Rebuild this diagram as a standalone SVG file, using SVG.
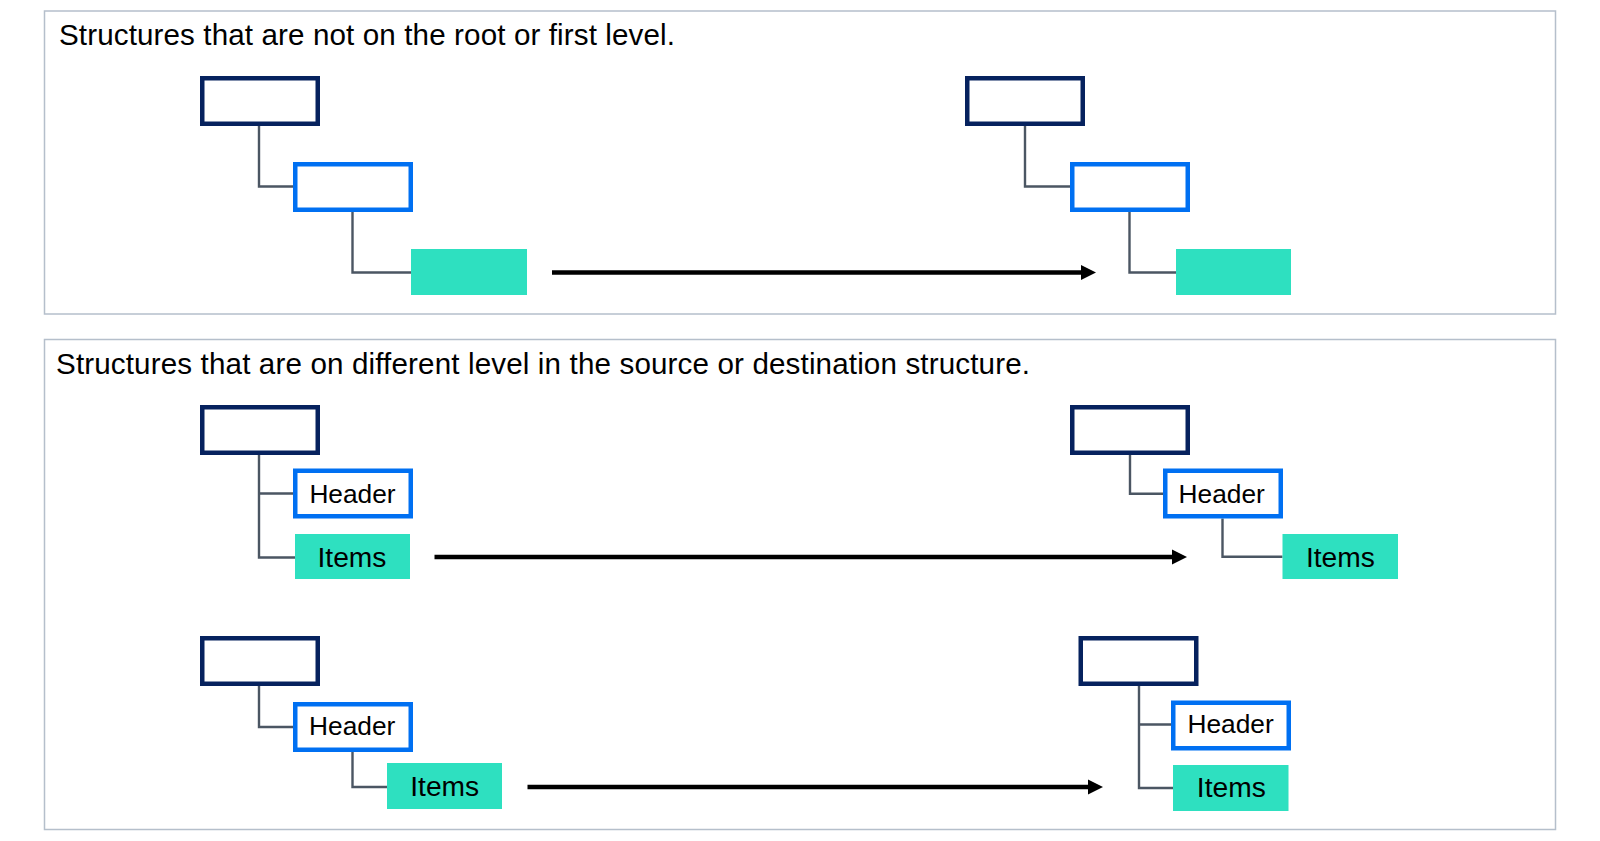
<svg xmlns="http://www.w3.org/2000/svg" width="1600" height="841" viewBox="0 0 1600 841">
<style>
.panel{fill:#ffffff;stroke:#b5bfcb;stroke-width:1.5}
.title{font-family:"Liberation Sans",Arial,sans-serif;font-size:29.6px;fill:#000}
.root{fill:#ffffff;stroke:#06225e;stroke-width:4.5}
.mid{fill:#ffffff;stroke:#0070f2;stroke-width:4.5}
.leaf{fill:#2ee0c0}
.hdr{font-family:"Liberation Sans",Arial,sans-serif;font-size:26.3px;fill:#000;text-anchor:middle}
.itm{font-family:"Liberation Sans",Arial,sans-serif;font-size:28.2px;fill:#000;text-anchor:middle}
.conn{fill:none;stroke:#4b5663;stroke-width:2.4}
.arrow{fill:none;stroke:#000;stroke-width:4.6}
.head{fill:#000}
</style>
<rect width="1600" height="841" fill="#ffffff"/>
<g id="panel1">
<rect class="panel" x="44.5" y="11" width="1511" height="303"/>
<text class="title" x="59" y="44.7" textLength="616" lengthAdjust="spacing">Structures that are not on the root or first level.</text>
</g>
<g id="panel2">
<rect class="panel" x="44.5" y="339.5" width="1511" height="490"/>
<text class="title" x="56" y="373.5" textLength="974" lengthAdjust="spacing">Structures that are on different level in the source or destination structure.</text>
</g>
<g id="connectors">
<path class="conn" d="M259,126 V186.5 H293"/>
<path class="conn" d="M352.5,212 V272.5 H411"/>
<path class="conn" d="M1025,126 V186.5 H1070"/>
<path class="conn" d="M1129.5,212 V272.5 H1176"/>
<path class="conn" d="M259,455 V557.5 H295 M259,493.5 H293"/>
<path class="conn" d="M1130,455 V493.7 H1163"/>
<path class="conn" d="M1222.5,518.5 V556.7 H1282.5"/>
<path class="conn" d="M259,686 V727 H293"/>
<path class="conn" d="M352.5,752 V787 H387"/>
<path class="conn" d="M1139,686 V788 H1173 M1139,724.5 H1171"/>
<path class="arrow" d="M552,272.5 H1083"/>
<path class="head" d="M1081,265 L1096,272.5 L1081,280 Z"/>
<path class="arrow" d="M434.5,557 H1174"/>
<path class="head" d="M1172,549.5 L1187,557 L1172,564.5 Z"/>
<path class="arrow" d="M527.5,787 H1090"/>
<path class="head" d="M1088,779.5 L1103,787 L1088,794.5 Z"/>
</g>
<g id="s1-left-root"><rect class="root" x="202.25" y="78.25" width="115.5" height="45.5"/></g>
<g id="s1-left-mid"><rect class="mid" x="295.25" y="164.25" width="115.5" height="45.5"/></g>
<g id="s1-left-leaf"><rect class="leaf" x="411" y="249" width="116" height="46"/></g>
<g id="s1-right-root"><rect class="root" x="967.25" y="78.25" width="115.5" height="45.5"/></g>
<g id="s1-right-mid"><rect class="mid" x="1072.25" y="164.25" width="115.5" height="45.5"/></g>
<g id="s1-right-leaf"><rect class="leaf" x="1176" y="249" width="115" height="46"/></g>
<g id="s2a-left-root"><rect class="root" x="202.25" y="407.25" width="115.5" height="45.5"/></g>
<g id="s2a-left-header"><rect class="mid" x="295.25" y="470.75" width="115.5" height="45.5"/><text class="hdr" x="352.5" y="502.5">Header</text></g>
<g id="s2a-left-items"><rect class="leaf" x="295" y="534" width="115" height="45"/><text class="itm" x="352" y="567.3">Items</text></g>
<g id="s2a-right-root"><rect class="root" x="1072.25" y="407.25" width="115.5" height="45.5"/></g>
<g id="s2a-right-header"><rect class="mid" x="1165.25" y="470.75" width="115.5" height="45.5"/><text class="hdr" x="1221.7" y="502.7">Header</text></g>
<g id="s2a-right-items"><rect class="leaf" x="1282.5" y="534" width="115.5" height="45"/><text class="itm" x="1340.4" y="567.3">Items</text></g>
<g id="s2b-left-root"><rect class="root" x="202.25" y="638.25" width="115.5" height="45.5"/></g>
<g id="s2b-left-header"><rect class="mid" x="295.25" y="704.25" width="115.5" height="45.5"/><text class="hdr" x="352.2" y="735">Header</text></g>
<g id="s2b-left-items"><rect class="leaf" x="387" y="763" width="115" height="46"/><text class="itm" x="444.7" y="796">Items</text></g>
<g id="s2b-right-root"><rect class="root" x="1080.75" y="638.25" width="115.5" height="45.5"/></g>
<g id="s2b-right-header"><rect class="mid" x="1173.25" y="702.75" width="115.5" height="45.5"/><text class="hdr" x="1230.6" y="732.7">Header</text></g>
<g id="s2b-right-items"><rect class="leaf" x="1173" y="765" width="115.5" height="46"/><text class="itm" x="1231.3" y="797.3">Items</text></g>
</svg>
